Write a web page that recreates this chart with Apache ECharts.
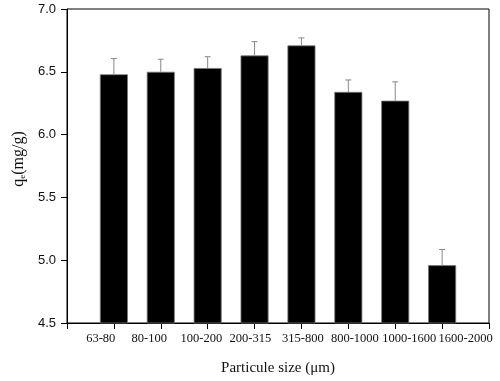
<!DOCTYPE html>
<html>
<head>
<meta charset="utf-8">
<script src="https://cdn.jsdelivr.net/npm/echarts@6/dist/echarts.min.js"></script>
<style>
  html, body { margin: 0; padding: 0; background: #fff; }
  #chart { width: 500px; height: 381px; }
</style>
</head>
<body>
<div id="chart"></div>
<script>
// particle size classes (µm) and adsorption capacity qe (mg/g)
const sizes = ['63-80', '80-100', '100-200', '200-315', '315-800', '800-1000', '1000-1600', '1600-2000']
const qe = [6.48, 6.50, 6.53, 6.63, 6.71, 6.34, 6.27, 4.96]
const qeErr = [0.125, 0.10, 0.09, 0.11, 0.06, 0.095, 0.15, 0.125]
const yTicks = [4.5, 5.0, 5.5, 6.0, 6.5, 7.0]

// the original plot spreads the category labels so they don't collide
const labelShift = [-0.28, -0.245, -0.135, -0.09, 0.03, 0.14, 0.3, 0.5]
const labelPos = sizes.map((s, i) => i + 1 + labelShift[i])

const chart = echarts.init(document.getElementById('chart'))

const barData = qe.map((v, i) => [i + 1, v])
const errData = qe.map((v, i) => [i + 1, v, v + qeErr[i]])

chart.setOption({
  animation: false,
  grid: {
    left: 67, right: 11, top: 9, bottom: 57,
    show: true, borderColor: '#000', borderWidth: 1
  },
  xAxis: {
    type: 'value',
    min: 0, max: 9, interval: 1,
    name: 'Particule size (\u03bcm)',
    nameLocation: 'middle',
    nameGap: 38,
    nameTextStyle: { fontFamily: 'Liberation Serif', fontSize: 15, color: '#111' },
    axisLine: { lineStyle: { color: '#000', width: 1 } },
    axisTick: {
      show: true, length: 6, lineStyle: { color: '#000' },
      customValues: [0, 1, 2, 3, 4, 5, 6, 7, 8, 9]
    },
    splitLine: { show: false },
    axisLabel: {
      fontFamily: 'Liberation Serif', fontSize: 12.5, color: '#111', margin: 9,
      customValues: labelPos,
      formatter: v => {
        const i = labelPos.findIndex(p => Math.abs(p - v) < 1e-6)
        return i >= 0 ? sizes[i] : ''
      }
    }
  },
  yAxis: {
    type: 'value',
    min: yTicks[0], max: yTicks[yTicks.length - 1], interval: 0.5,
    name: '{q|q}{e|e}{q|(mg/g)}',
    nameLocation: 'middle',
    nameGap: 37,
    nameRotate: 90,
    nameTextStyle: {
      padding: [0, 0, 0, 14],
      rich: {
        q: { fontFamily: 'Liberation Serif', fontSize: 16, color: '#111' },
        e: { fontFamily: 'Liberation Serif', fontSize: 9, color: '#111', verticalAlign: 'bottom', padding: [7, 0, 0, 0] }
      }
    },
    axisLine: { show: true, lineStyle: { color: '#000', width: 1 } },
    axisTick: { show: true, length: 6, lineStyle: { color: '#000' } },
    splitLine: { show: false },
    axisLabel: {
      fontFamily: 'Liberation Sans', fontSize: 13, color: '#111', margin: 11,
      formatter: v => v.toFixed(1)
    }
  },
  series: [
    {
      type: 'bar',
      data: barData,
      barWidth: 28,
      itemStyle: { color: '#000', borderColor: '#777', borderWidth: 0.8 }
    },
    {
      type: 'custom',
      data: errData,
      z: 3,
      renderItem: (params, api) => {
        const base = api.coord([api.value(0), api.value(1)])
        const top = api.coord([api.value(0), api.value(2)])
        const cap = 3
        const style = { stroke: '#888', lineWidth: 1 }
        return {
          type: 'group',
          children: [
            { type: 'line', shape: { x1: base[0], y1: base[1], x2: top[0], y2: top[1] }, style },
            { type: 'line', shape: { x1: top[0] - cap, y1: top[1], x2: top[0] + cap, y2: top[1] }, style }
          ]
        }
      }
    }
  ]
})
</script>
</body>
</html>
